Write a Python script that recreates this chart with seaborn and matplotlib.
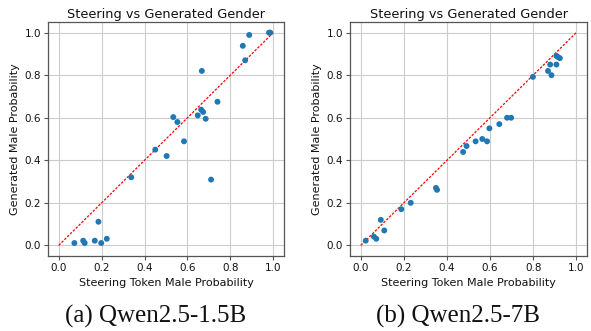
import matplotlib
matplotlib.use("Agg")
import matplotlib.pyplot as plt
import seaborn as sns
import pandas as pd

# Qwen2.5-1.5B
steer_15b = [0.073, 0.114, 0.121, 0.168, 0.185, 0.198, 0.224, 0.338, 0.450, 0.503,
             0.534, 0.553, 0.584, 0.648, 0.664, 0.673, 0.667, 0.685, 0.710, 0.740,
             0.858, 0.869, 0.888, 0.980, 0.986]
gen_15b = [0.011, 0.022, 0.011, 0.022, 0.111, 0.011, 0.031, 0.320, 0.450, 0.420,
           0.603, 0.580, 0.489, 0.611, 0.638, 0.627, 0.820, 0.595, 0.309, 0.675,
           0.938, 0.870, 0.989, 1.000, 1.000]

# Qwen2.5-7B
steer_7b = [0.023, 0.061, 0.072, 0.093, 0.109, 0.188, 0.232, 0.349, 0.354, 0.475,
            0.491, 0.533, 0.564, 0.586, 0.597, 0.643, 0.679, 0.698, 0.799, 0.869,
            0.879, 0.885, 0.908, 0.914, 0.908, 0.924]
gen_7b = [0.022, 0.041, 0.031, 0.120, 0.070, 0.170, 0.200, 0.270, 0.261, 0.439,
          0.467, 0.489, 0.500, 0.489, 0.550, 0.570, 0.600, 0.600, 0.792, 0.820,
          0.850, 0.800, 0.891, 0.886, 0.850, 0.880]

diag = [0, 1]
panels = [("(a) Qwen2.5-1.5B", steer_15b, gen_15b),
          ("(b) Qwen2.5-7B", steer_7b, gen_7b)]

sns.set_style("whitegrid", {"axes.edgecolor": "#555555", "grid.color": "#cccccc",
                            "text.color": "#111111", "axes.labelcolor": "#111111",
                            "xtick.color": "#111111", "ytick.color": "#111111"})

fig = plt.figure(figsize=(5.91, 3.31), dpi=100)
boxes = [[48/591, 1-256/331, 236/591, 234/331],
         [350/591, 1-256/331, 237/591, 234/331]]

for (cap, xs, ys), box in zip(panels, boxes):
    ax = fig.add_axes(box)
    df = pd.DataFrame({"steer": xs, "gen": ys})
    sns.scatterplot(data=df, x="steer", y="gen", ax=ax, s=18, color="#1f77b4",
                    edgecolor="none", zorder=3)
    ax.plot(diag, diag, color="red", linestyle="--", linewidth=0.9, dashes=(2, 1.2), zorder=2)
    ax.set_xlim(-0.05, 1.05)
    ax.set_ylim(-0.05, 1.05)
    ax.set_xticks([0, 0.2, 0.4, 0.6, 0.8, 1.0])
    ax.set_yticks([0, 0.2, 0.4, 0.6, 0.8, 1.0])
    ax.tick_params(labelsize=7.5, length=3, color="#555555", pad=2, left=True, bottom=True)
    for sp in ax.spines.values():
        sp.set_linewidth(0.9)
    ax.set_title("Steering vs Generated Gender", fontsize=9.3, pad=3)
    ax.set_xlabel("Steering Token Male Probability", fontsize=8, labelpad=4)
    ax.set_ylabel("Generated Male Probability", fontsize=8, labelpad=3)
    cx = box[0] + box[2] / 2 - 10/591
    fig.text(cx, 15/331, cap, ha="center", va="center",
             fontsize=18, family="Liberation Serif")

fig.savefig("out.png", dpi=100)
